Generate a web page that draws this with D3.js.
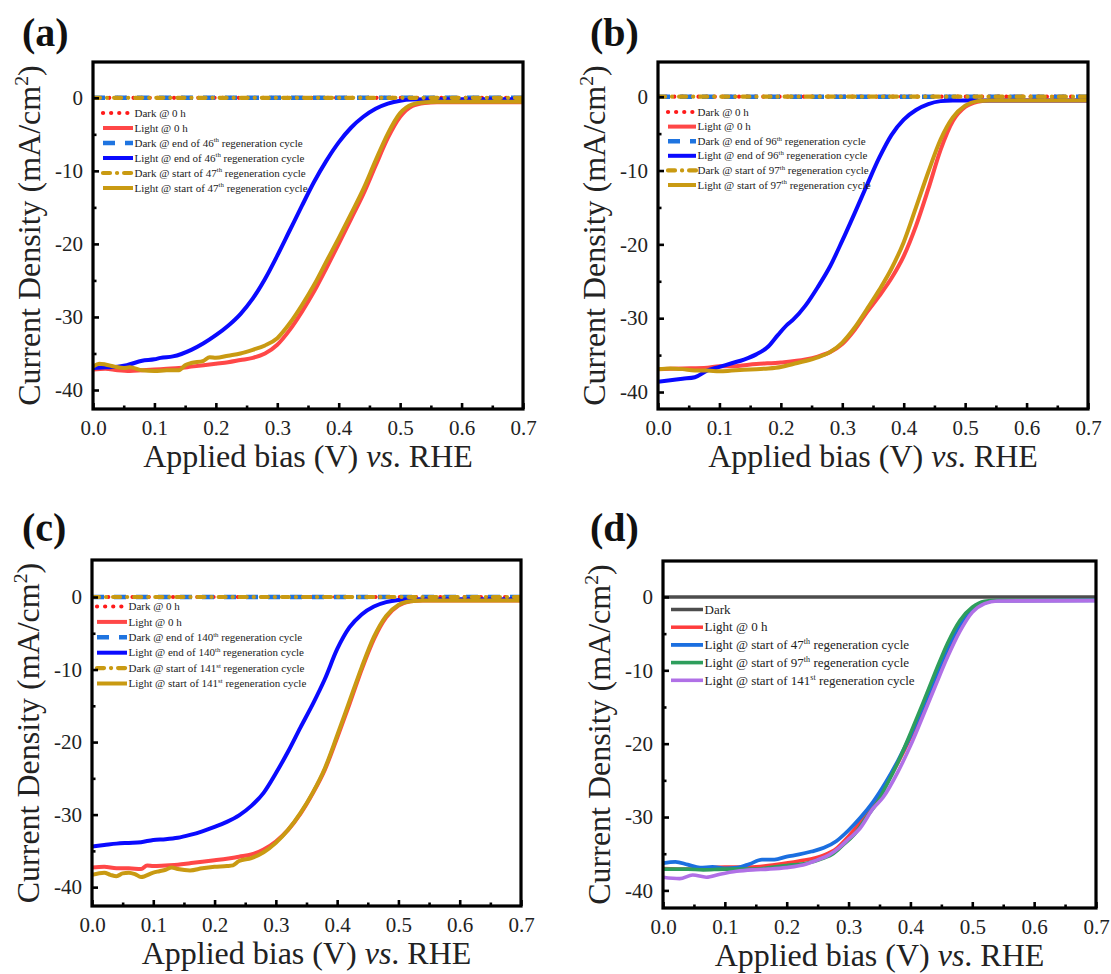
<!DOCTYPE html>
<html><head><meta charset="utf-8">
<script src="https://cdn.jsdelivr.net/npm/d3@7/dist/d3.min.js"></script>
<style>body{margin:0;background:#fff} svg{display:block}</style>
</head><body><svg id="chart" width="1111" height="974"></svg>
<script>
// ---------------- DATA ----------------
const xTicks = [0.0, 0.1, 0.2, 0.3, 0.4, 0.5, 0.6, 0.7];
const xMinorTicks = [0.05, 0.15, 0.25, 0.35, 0.45, 0.55, 0.65];
const yTicks = [0, -10, -20, -30, -40];
const yMinorTicks = [-5, -15, -25, -35];

const darkCurrent = [[0, 0], [0.35, 0], [0.7, 0]];

// panel (a)
const aLight0 = [[0,-37.2],[0.02,-37.1],[0.04,-37.3],[0.06,-37.4],[0.08,-37.3],[0.10,-37.2],[0.12,-37.1],[0.14,-37.0],[0.16,-36.8],[0.18,-36.6],[0.20,-36.4],[0.22,-36.2],[0.24,-35.9],[0.26,-35.6],[0.28,-35.0],[0.30,-33.8],[0.32,-31.8],[0.34,-29.3],[0.36,-26.5],[0.38,-23.3],[0.40,-20.0],[0.42,-16.6],[0.44,-13.2],[0.46,-9.3],[0.48,-5.5],[0.50,-2.6],[0.52,-1.1],[0.54,-0.7],[0.56,-0.6],[0.60,-0.6],[0.70,-0.6]];
const aLightEnd46 = [[0,-37.0],[0.02,-36.9],[0.04,-36.8],[0.055,-36.6],[0.08,-36.0],[0.10,-35.8],[0.11,-35.6],[0.13,-35.4],[0.16,-34.5],[0.18,-33.6],[0.20,-32.5],[0.22,-31.2],[0.24,-29.6],[0.26,-27.5],[0.28,-24.8],[0.30,-21.6],[0.32,-18.2],[0.34,-14.8],[0.36,-11.5],[0.38,-8.6],[0.40,-6.1],[0.42,-4.1],[0.44,-2.6],[0.46,-1.5],[0.48,-0.8],[0.50,-0.4],[0.52,-0.25],[0.56,-0.2],[0.70,-0.2]];
const aLightStart47 = [[0,-36.8],[0.01,-36.4],[0.02,-36.5],[0.035,-36.8],[0.05,-37.0],[0.06,-36.9],[0.08,-37.3],[0.10,-37.4],[0.12,-37.3],[0.14,-37.3],[0.15,-36.6],[0.16,-36.3],[0.18,-36.0],[0.19,-35.5],[0.20,-35.6],[0.22,-35.3],[0.24,-35.0],[0.26,-34.5],[0.28,-33.9],[0.30,-32.9],[0.32,-30.9],[0.34,-28.4],[0.36,-25.6],[0.38,-22.4],[0.40,-19.2],[0.42,-15.9],[0.44,-12.5],[0.46,-8.6],[0.48,-4.9],[0.50,-2.1],[0.52,-0.9],[0.54,-0.6],[0.56,-0.55],[0.70,-0.55]];

// panel (b)
const bLight0 = [[0,-36.9],[0.04,-36.8],[0.08,-36.7],[0.10,-36.5],[0.12,-36.5],[0.16,-36.2],[0.20,-36.0],[0.24,-35.6],[0.26,-35.2],[0.28,-34.6],[0.30,-33.5],[0.32,-31.6],[0.34,-29.2],[0.36,-27.0],[0.38,-24.6],[0.40,-21.6],[0.42,-17.5],[0.44,-12.5],[0.46,-7.2],[0.48,-3.3],[0.50,-1.4],[0.52,-0.7],[0.54,-0.5],[0.70,-0.5]];
const bLightEnd96 = [[0,-38.6],[0.02,-38.4],[0.04,-38.2],[0.06,-38.0],[0.08,-37.1],[0.10,-36.6],[0.12,-36.1],[0.14,-35.6],[0.16,-34.9],[0.18,-33.8],[0.195,-32.3],[0.21,-30.9],[0.22,-30.2],[0.24,-28.3],[0.26,-25.8],[0.28,-23.0],[0.30,-19.5],[0.32,-15.8],[0.34,-12.0],[0.36,-8.3],[0.38,-5.2],[0.40,-3.1],[0.42,-1.8],[0.44,-1.0],[0.46,-0.6],[0.48,-0.5],[0.70,-0.5]];
const bLightStart97 = [[0,-36.9],[0.02,-36.8],[0.04,-36.9],[0.06,-37.1],[0.08,-37.1],[0.10,-37.2],[0.12,-37.1],[0.14,-37.0],[0.16,-36.9],[0.18,-36.8],[0.20,-36.6],[0.22,-36.2],[0.24,-35.8],[0.26,-35.3],[0.28,-34.6],[0.30,-33.3],[0.32,-31.3],[0.34,-28.8],[0.36,-26.2],[0.38,-23.3],[0.40,-19.7],[0.42,-15.0],[0.44,-10.2],[0.46,-5.8],[0.48,-2.8],[0.50,-1.2],[0.52,-0.6],[0.54,-0.5],[0.70,-0.5]];

// panel (c)
const cLight0 = [[0,-37.3],[0.02,-37.2],[0.04,-37.4],[0.06,-37.4],[0.08,-37.5],[0.09,-37.0],[0.10,-37.1],[0.12,-37.0],[0.14,-36.9],[0.16,-36.7],[0.18,-36.5],[0.20,-36.3],[0.22,-36.1],[0.24,-35.8],[0.26,-35.5],[0.28,-34.8],[0.30,-33.7],[0.32,-32.1],[0.34,-29.9],[0.36,-27.1],[0.38,-23.8],[0.40,-19.4],[0.42,-14.8],[0.44,-10.0],[0.46,-5.8],[0.48,-2.8],[0.50,-1.2],[0.52,-0.6],[0.54,-0.5],[0.70,-0.5]];
const cLightEnd140 = [[0,-34.4],[0.02,-34.2],[0.04,-34.0],[0.06,-33.9],[0.08,-33.8],[0.10,-33.5],[0.12,-33.4],[0.14,-33.2],[0.16,-32.8],[0.18,-32.3],[0.20,-31.7],[0.22,-31.0],[0.24,-30.1],[0.26,-28.8],[0.28,-27.0],[0.30,-24.3],[0.32,-21.3],[0.34,-18.0],[0.36,-14.8],[0.38,-11.3],[0.40,-7.2],[0.42,-4.2],[0.44,-2.4],[0.46,-1.3],[0.48,-0.7],[0.50,-0.4],[0.52,-0.3],[0.70,-0.3]];
const cLightStart141 = [[0,-38.3],[0.02,-38.0],[0.03,-38.3],[0.04,-38.5],[0.05,-38.1],[0.06,-38.0],[0.07,-38.2],[0.08,-38.6],[0.10,-38.0],[0.11,-37.8],[0.12,-37.6],[0.13,-37.3],[0.14,-37.5],[0.16,-37.7],[0.18,-37.4],[0.20,-37.2],[0.22,-37.1],[0.23,-37.0],[0.24,-36.4],[0.26,-36.0],[0.28,-35.2],[0.30,-33.9],[0.32,-32.1],[0.34,-29.8],[0.36,-27.0],[0.38,-23.6],[0.40,-19.1],[0.42,-14.4],[0.44,-9.7],[0.46,-5.5],[0.48,-2.6],[0.50,-1.1],[0.52,-0.6],[0.54,-0.5],[0.70,-0.5]];

// panel (d)
const dLight0 = [[0,-37.0],[0.04,-37.1],[0.08,-36.9],[0.10,-36.8],[0.14,-36.8],[0.18,-36.5],[0.22,-36.0],[0.26,-35.2],[0.28,-34.3],[0.30,-32.6],[0.32,-30.6],[0.34,-28.2],[0.36,-25.6],[0.38,-22.6],[0.40,-19.2],[0.42,-15.3],[0.44,-11.3],[0.46,-7.3],[0.48,-4.0],[0.50,-1.8],[0.52,-0.8],[0.54,-0.5],[0.70,-0.45]];
const dLightStart47 = [[0,-36.3],[0.02,-36.1],[0.04,-36.5],[0.06,-36.9],[0.08,-36.8],[0.10,-37.0],[0.12,-36.9],[0.14,-36.4],[0.16,-35.8],[0.18,-35.8],[0.20,-35.4],[0.22,-35.1],[0.24,-34.7],[0.26,-34.2],[0.28,-33.3],[0.30,-31.8],[0.32,-30.0],[0.34,-27.9],[0.36,-25.3],[0.38,-22.3],[0.40,-18.9],[0.42,-15.0],[0.44,-11.0],[0.46,-7.0],[0.48,-3.8],[0.50,-1.7],[0.52,-0.8],[0.54,-0.5],[0.70,-0.45]];
const dLightStart97 = [[0,-37.1],[0.04,-37.1],[0.065,-37.2],[0.10,-37.1],[0.145,-37.1],[0.18,-36.8],[0.20,-36.6],[0.232,-36.3],[0.26,-35.6],[0.275,-35.0],[0.29,-33.9],[0.308,-32.5],[0.33,-29.9],[0.345,-28.2],[0.36,-25.9],[0.38,-22.5],[0.40,-18.6],[0.42,-14.5],[0.44,-10.3],[0.46,-6.3],[0.48,-3.2],[0.50,-1.4],[0.52,-0.6],[0.54,-0.45],[0.70,-0.45]];
const dLightStart141 = [[0,-38.2],[0.027,-38.4],[0.048,-37.9],[0.07,-38.2],[0.092,-37.8],[0.119,-37.4],[0.145,-37.2],[0.17,-37.1],[0.199,-36.9],[0.232,-36.4],[0.248,-35.9],[0.268,-35.2],[0.286,-34.1],[0.30,-33.0],[0.318,-31.6],[0.34,-28.8],[0.356,-27.3],[0.38,-23.8],[0.40,-20.3],[0.42,-16.3],[0.44,-12.2],[0.46,-8.2],[0.48,-4.7],[0.50,-2.1],[0.52,-0.9],[0.54,-0.55],[0.70,-0.5]];

// legend labels (^..^ marks superscript)
const aLabels = ["Dark @ 0 h","Light @ 0 h","Dark @ end of 46^th^ regeneration cycle","Light @ end of 46^th^ regeneration cycle","Dark @ start of 47^th^ regeneration cycle","Light @ start of 47^th^ regeneration cycle"];
const bLabels = ["Dark @ 0 h","Light @ 0 h","Dark @ end of 96^th^ regeneration cycle","Light @ end of 96^th^ regeneration cycle","Dark @ start of 97^th^ regeneration cycle","Light @ start of 97^th^ regeneration cycle"];
const cLabels = ["Dark @ 0 h","Light @ 0 h","Dark @ end of 140^th^ regeneration cycle","Light @ end of 140^th^ regeneration cycle","Dark @ start of 141^st^ regeneration cycle","Light @ start of 141^st^ regeneration cycle"];
const dLabels = ["Dark","Light @ 0 h","Light @ start of 47^th^ regeneration cycle","Light @ start of 97^th^ regeneration cycle","Light @ start of 141^st^ regeneration cycle"];

// ---------------- STYLES ----------------
const FONT = "'Liberation Serif','Times New Roman',serif";
const styABC = [
  {color:"#ff1a1a", w:4.2, dash:"0.1 8", cap:"round"},
  {color:"#ff4747", w:4},
  {color:"#1f74e0", w:4.4, dash:"12 10", cap:"butt"},
  {color:"#0a0aff", w:4},
  {color:"#c99a12", w:4.2, dash:"7 7 0.1 7", cap:"round"},
  {color:"#c99a12", w:4}
];
const styD = [
  {color:"#4d4d4d", w:3.5},
  {color:"#ff3c3c", w:3.5},
  {color:"#1b6fe0", w:3.8},
  {color:"#2e9e5c", w:3.6},
  {color:"#b070e6", w:3.6}
];

const panels = [
  {label:"(a)", lx:22, ly:46, box:{l:93,r:523,t:62,b:409}, yDom:[-42.6,4.9],
   series:[darkCurrent,aLight0,darkCurrent,aLightEnd46,darkCurrent,aLightStart47], sty:styABC, labels:aLabels,
   leg:{x:103, y:113, dy:15, len:30, fs:11}},
  {label:"(b)", lx:590, ly:46, box:{l:658,r:1088,t:62,b:409}, yDom:[-42.3,4.7],
   series:[darkCurrent,bLight0,darkCurrent,bLightEnd96,darkCurrent,bLightStart97], sty:styABC, labels:bLabels,
   leg:{x:668, y:112, dy:14.6, len:28, fs:11}},
  {label:"(c)", lx:22, ly:541, box:{l:92,r:521,t:560,b:906}, yDom:[-42.6,5.1],
   series:[darkCurrent,cLight0,darkCurrent,cLightEnd140,darkCurrent,cLightStart141], sty:styABC, labels:cLabels,
   leg:{x:97, y:606.5, dy:15.4, len:30, fs:11}},
  {label:"(d)", lx:590, ly:541, box:{l:663,r:1096,t:561,b:908}, yDom:[-42.4,4.9],
   series:[darkCurrent,dLight0,dLightStart47,dLightStart97,dLightStart141], sty:styD, labels:dLabels,
   leg:{x:671, y:609.5, dy:17.7, len:32, fs:13}}
];

// ---------------- DRAW ----------------
const svg = d3.select("#chart");
const defs = svg.append("defs");

function addRichText(sel, str, fs) {
  const parts = str.split("^");
  let supPending = false;
  parts.forEach((t, i) => {
    if (!t) return;
    const isSup = i % 2 === 1;
    const ts = sel.append("tspan").text(t);
    if (isSup) {
      ts.attr("font-size", fs * 0.62).attr("dy", -fs * 0.38);
      supPending = true;
    } else if (supPending) {
      ts.attr("dy", fs * 0.38);
      supPending = false;
    }
  });
}

panels.forEach((p, pi) => {
  const B = p.box;
  const x = d3.scaleLinear().domain([0, 0.7]).range([B.l, B.r]);
  const y = d3.scaleLinear().domain(p.yDom).range([B.b, B.t]);
  const g = svg.append("g");

  const clipId = "clip" + pi;
  defs.append("clipPath").attr("id", clipId).append("rect")
    .attr("x", B.l).attr("y", B.t).attr("width", B.r - B.l).attr("height", B.b - B.t);

  const line = d3.line().x(d => x(d[0])).y(d => y(d[1])).curve(d3.curveMonotoneX);

  p.series.forEach((s, i) => {
    const st = p.sty[i];
    g.append("path").datum(s).attr("d", line)
      .attr("fill", "none").attr("stroke", st.color).attr("stroke-width", st.w)
      .attr("stroke-dasharray", st.dash || null)
      .attr("stroke-linecap", st.cap || "butt").attr("stroke-linejoin", "round")
      .attr("clip-path", `url(#${clipId})`);
  });

  // legend
  const L = p.leg;
  p.labels.forEach((lab, i) => {
    const st = p.sty[i];
    const yy = L.y + i * L.dy;
    g.append("line").attr("x1", L.x).attr("x2", L.x + L.len).attr("y1", yy).attr("y2", yy)
      .attr("stroke", st.color).attr("stroke-width", st.w)
      .attr("stroke-dasharray", st.dash || null).attr("stroke-linecap", st.cap || "butt");
    const t = g.append("text").attr("x", L.x + L.len + 1.5).attr("y", yy + L.fs * 0.33)
      .attr("font-family", FONT).attr("font-size", L.fs).attr("fill", "#222");
    addRichText(t, lab, L.fs);
  });

  // axes
  const axB = g.append("g").attr("transform", `translate(0,${B.b})`)
    .call(d3.axisBottom(x).tickValues(xTicks).tickSize(-6).tickPadding(11).tickFormat(d3.format(".1f")));
  const axBm = g.append("g").attr("transform", `translate(0,${B.b})`)
    .call(d3.axisBottom(x).tickValues(xMinorTicks).tickSize(-3.5).tickFormat(""));
  const axL = g.append("g").attr("transform", `translate(${B.l},0)`)
    .call(d3.axisLeft(y).tickValues(yTicks).tickSize(-6).tickPadding(10).tickFormat(d => String(d)));
  const axLm = g.append("g").attr("transform", `translate(${B.l},0)`)
    .call(d3.axisLeft(y).tickValues(yMinorTicks).tickSize(-3.5).tickFormat(""));
  [axB, axBm, axL, axLm].forEach(a => {
    a.select(".domain").remove();
    a.selectAll(".tick line").attr("stroke", "#000").attr("stroke-width", 2.6);
    a.selectAll("text").attr("font-family", FONT).attr("font-size", 21).attr("fill", "#222");
  });

  // frame
  g.append("rect").attr("x", B.l).attr("y", B.t).attr("width", B.r - B.l).attr("height", B.b - B.t)
    .attr("fill", "none").attr("stroke", "#000").attr("stroke-width", 3.2);

  // axis titles
  const xt = g.append("text").attr("x", (B.l + B.r) / 2).attr("y", B.b + 58)
    .attr("text-anchor", "middle").attr("font-family", FONT).attr("font-size", 32).attr("fill", "#222");
  xt.append("tspan").text("Applied bias (V) ");
  xt.append("tspan").attr("font-style", "italic").text("vs");
  xt.append("tspan").text(". RHE");

  const cy = (B.t + B.b) / 2;
  const yt = g.append("text").attr("transform", `translate(${B.l - 53},${cy}) rotate(-90)`)
    .attr("text-anchor", "middle").attr("font-family", FONT).attr("font-size", 32).attr("fill", "#222");
  addRichText(yt, "Current Density (mA/cm^2^)", 32);

  // panel label
  g.append("text").attr("x", p.lx).attr("y", p.ly).attr("font-family", FONT)
    .attr("font-size", 40).attr("font-weight", "bold").attr("fill", "#111").text(p.label);
});
</script></body></html>
